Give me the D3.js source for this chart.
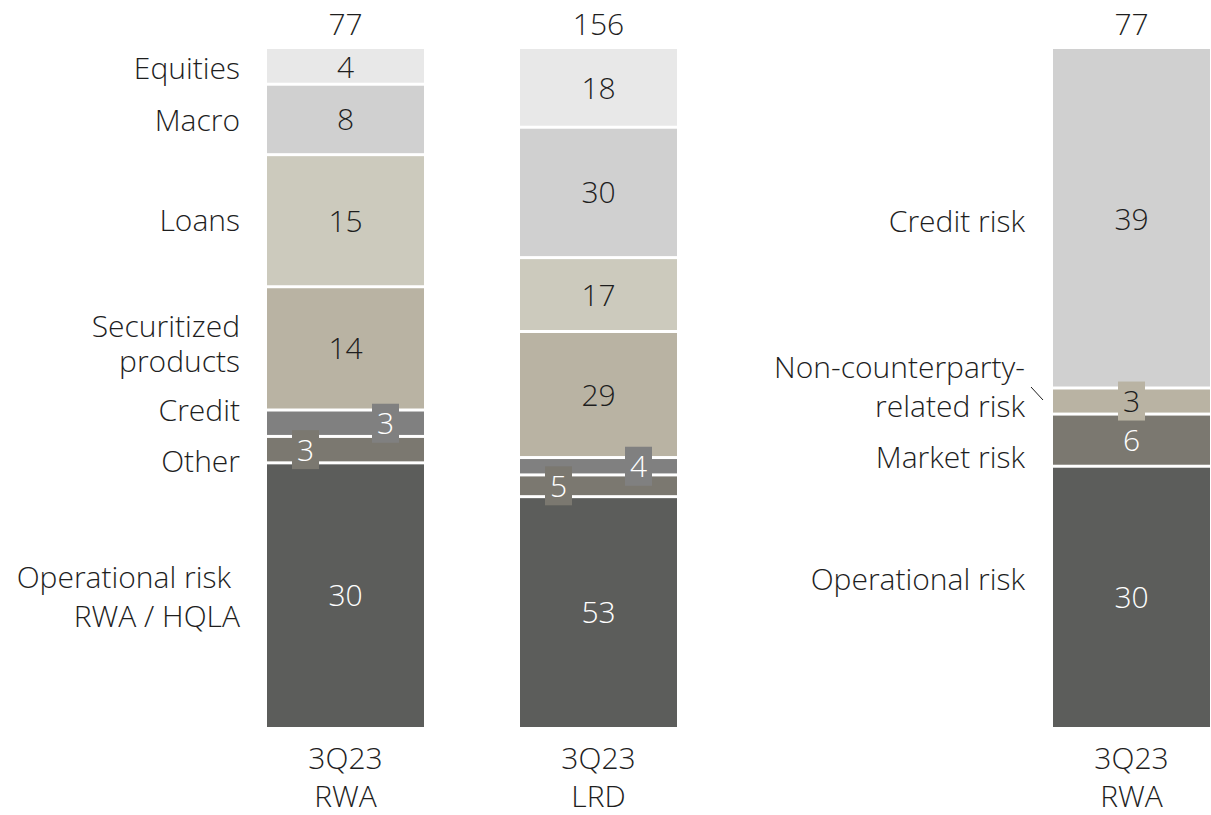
<!DOCTYPE html>
<html>
<head>
<meta charset="utf-8">
<script src="https://cdn.jsdelivr.net/npm/d3@7"></script>
<style>
  html, body { margin: 0; padding: 0; background: #fff; }
  svg { display: block; }
  text { font-family: "Open Sans", "Noto Sans", sans-serif; font-weight: 300; fill: #1e1e1e; }
</style>
</head>
<body>
<svg id="chart" width="1211" height="815"></svg>
<script>
// Bar identifiers and their two-line category labels
const bars = ["rwa", "lrd", "rwaRisk"];
const barLine1 = ["3Q23", "3Q23", "3Q23"];
const barLine2 = ["RWA", "LRD", "RWA"];
const barTotals = [77, 156, 77];

// Segments of the first two bars, bottom to top
const bizSegments = ["Operational risk", "Other", "Credit", "Securitized products", "Loans", "Macro", "Equities"];
const rwaValues = [30, 3, 3, 14, 15, 8, 4];
const lrdValues = [53, 5, 4, 29, 17, 30, 18];
const bizColors = ["#5c5d5b", "#7b7870", "#808080", "#b9b3a3", "#cccabd", "#d0d0d0", "#e8e8e8"];
const bizTextColors = ["#fff", "#fff", "#fff", "#1e1e1e", "#1e1e1e", "#1e1e1e", "#1e1e1e"];
// label box for thin segments: -1 box to the left, +1 box to the right, "c" centred box, 0 plain label
const bizBoxSide = [0, -1, 1, 0, 0, 0, 0];

// Segments of the risk-type bar, bottom to top
const riskSegments = ["Operational risk", "Market risk", "Non-counterparty-related risk", "Credit risk"];
const riskValues = [30, 6, 3, 39];
const riskColors = ["#5c5d5b", "#7b7870", "#b9b3a3", "#d0d0d0"];
const riskTextColors = ["#fff", "#fff", "#1e1e1e", "#1e1e1e"];
const riskBoxSide = [0, 0, "c", 0];

// Category labels beside the bars (bottom to top), one entry per text line
const leftLabels = [["Operational risk", "RWA / HQLA"], ["Other"], ["Credit"], ["Securitized", "products"], ["Loans"], ["Macro"], ["Equities"]];
const rightLabels = [["Operational risk"], ["Market risk"], ["Non-counterparty-", "related risk"], ["Credit risk"]];

const svg = d3.select("#chart");
const plotTop = 49, plotBottom = 727, barW = 157, gap = 3, fs = 30;

const x = d3.scaleOrdinal().domain(bars).range([267, 520, 1053]);

function stackOf(values) {
  let acc = 0;
  return values.map(v => { const d = { y0: acc, y1: acc + v, v }; acc += v; return d; });
}

const series = [
  { id: "rwa", values: rwaValues, colors: bizColors, text: bizTextColors, box: bizBoxSide },
  { id: "lrd", values: lrdValues, colors: bizColors, text: bizTextColors, box: bizBoxSide },
  { id: "rwaRisk", values: riskValues, colors: riskColors, text: riskTextColors, box: riskBoxSide }
];

series.forEach((s, si) => {
  const stack = stackOf(s.values);
  const y = d3.scaleLinear().domain([0, d3.sum(s.values)]).range([plotBottom, plotTop]);
  const g = svg.append("g").attr("transform", `translate(${x(s.id)},0)`);
  const last = stack.length - 1;

  g.selectAll("rect.seg").data(stack).join("rect")
    .attr("class", "seg")
    .attr("x", 0).attr("width", barW)
    .attr("y", (d, i) => y(d.y1) + (i === last ? 0 : gap / 2))
    .attr("height", (d, i) => (y(d.y0) - y(d.y1)) - (i === last ? 0 : gap / 2) - (i === 0 ? 0 : gap / 2))
    .attr("fill", (d, i) => s.colors[i]);

  stack.forEach((d, i) => {
    const cy = y((d.y0 + d.y1) / 2);
    const side = s.box[i];
    let cx = barW / 2;
    if (side !== 0) {
      if (side !== "c") cx = barW / 2 + side * 40;
      const bw = 27, bh = 39;
      g.append("rect")
        .attr("x", cx - bw / 2).attr("y", cy - bh / 2)
        .attr("width", bw).attr("height", bh)
        .attr("fill", s.colors[i]);
    }
    g.append("text")
      .attr("x", cx).attr("y", cy + 11)
      .attr("text-anchor", "middle")
      .style("font-size", fs + "px")
      .style("fill", s.text[i])
      .text(d.v);
  });

  // total above bar
  svg.append("text")
    .attr("x", x(s.id) + barW / 2).attr("y", 35)
    .attr("text-anchor", "middle")
    .style("font-size", fs + "px")
    .text(barTotals[si]);

  // category label below bar
  [barLine1[si], barLine2[si]].forEach((t, k) => {
    svg.append("text")
      .attr("x", x(s.id) + barW / 2).attr("y", 769 + k * 38)
      .attr("text-anchor", "middle")
      .style("font-size", fs + "px")
      .text(t);
  });
});

// Left-side segment names (text baselines)
const leftY = [[588, 627], [472], [421], [337, 372], [231], [131], [79]];
leftLabels.forEach((lines, i) => {
  lines.forEach((t, k) => {
    svg.append("text")
      .attr("x", i === 0 && k === 0 ? 231 : 240)
      .attr("y", leftY[i][k])
      .attr("text-anchor", "end")
      .style("font-size", fs + "px")
      .text(t);
  });
});

// Right-side segment names (text baselines)
const rightY = [[590], [468], [378, 417], [232]];
rightLabels.forEach((lines, i) => {
  lines.forEach((t, k) => {
    svg.append("text")
      .attr("x", 1025).attr("y", rightY[i][k])
      .attr("text-anchor", "end")
      .style("font-size", fs + "px")
      .text(t);
  });
});

// leader line for the thin risk segment
svg.append("line")
  .attr("x1", 1031).attr("y1", 387).attr("x2", 1043).attr("y2", 400)
  .attr("stroke", "#1e1e1e").attr("stroke-width", 1);
</script>
</body>
</html>
